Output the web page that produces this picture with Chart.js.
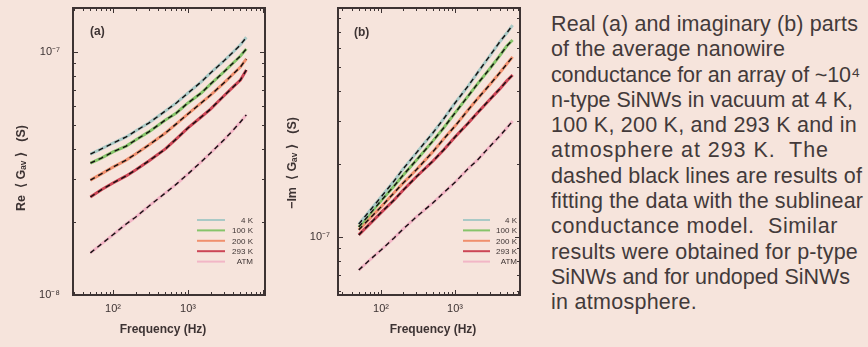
<!DOCTYPE html>
<html><head><meta charset="utf-8">
<script src="https://cdn.jsdelivr.net/npm/chart.js@4"></script>
<style>
html,body{margin:0;padding:0;background:#f6e4dc;width:868px;height:347px;overflow:hidden;position:relative;}
#wa{position:absolute;left:0;top:0;width:280px;height:347px;}
#wb{position:absolute;left:270px;top:0;width:270px;height:347px;}
#cap{position:absolute;left:551px;top:12px;font-family:"Liberation Sans",Arial,sans-serif;font-size:21.5px;line-height:25.3px;color:#433a3a;white-space:nowrap;}
</style></head><body>
<div id="wa"><canvas id="ca"></canvas></div>
<div id="wb"><canvas id="cb"></canvas></div>
<div id="cap"><span class="ln">Real (a) and imaginary (b) parts</span><br><span class="ln">of the average nanowire</span><br><span class="ln">conductance for an array of ~10⁴</span><br><span class="ln">n-type SiNWs in vacuum at 4 K,</span><br><span class="ln">100 K, 200 K, and 293 K and in</span><br><span class="ln">atmosphere at 293 K.&nbsp; The</span><br><span class="ln">dashed black lines are results of</span><br><span class="ln">fitting the data with the sublinear</span><br><span class="ln">conductance model.&nbsp; Similar</span><br><span class="ln">results were obtained for p-type</span><br><span class="ln">SiNWs and for undoped SiNWs</span><br><span class="ln">in atmosphere.</span></div>
<script>
// ---- data ----
const freq = [50,70,100,150,200,300,500,700,1000,1500,2000,3000,4000,5000,6000];
const seriesLabels = ['4 K','100 K','200 K','293 K','ATM'];
const seriesColors = ['#a9c9c6','#86c46a','#f0906e','#cc4656','#f2b6c6'];

const reA_4K   = [3.80e-8,3.99e-8,4.22e-8,4.47e-8,4.73e-8,5.10e-8,5.72e-8,6.17e-8,6.78e-8,7.53e-8,8.20e-8,9.18e-8,1.00e-7,1.07e-7,1.15e-7];
const reA_100K = [3.49e-8,3.66e-8,3.88e-8,4.10e-8,4.34e-8,4.69e-8,5.25e-8,5.61e-8,6.17e-8,6.78e-8,7.38e-8,8.27e-8,9.01e-8,9.63e-8,1.03e-7];
const reA_200K = [2.97e-8,3.15e-8,3.36e-8,3.59e-8,3.80e-8,4.14e-8,4.64e-8,5.06e-8,5.56e-8,6.17e-8,6.65e-8,7.45e-8,8.12e-8,8.67e-8,9.36e-8];
const reA_293K = [2.53e-8,2.71e-8,2.89e-8,3.09e-8,3.27e-8,3.56e-8,3.99e-8,4.39e-8,4.87e-8,5.40e-8,5.82e-8,6.59e-8,7.18e-8,7.67e-8,8.43e-8];
const reA_ATM  = [1.49e-8,1.62e-8,1.77e-8,1.96e-8,2.09e-8,2.32e-8,2.63e-8,2.86e-8,3.15e-8,3.53e-8,3.84e-8,4.34e-8,4.77e-8,5.15e-8,5.51e-8];

const imB_4K   = [1.13e-7,1.28e-7,1.46e-7,1.70e-7,1.91e-7,2.22e-7,2.68e-7,3.06e-7,3.56e-7,4.18e-7,4.73e-7,5.61e-7,6.34e-7,6.91e-7,7.45e-7];
const imB_100K = [1.10e-7,1.24e-7,1.41e-7,1.62e-7,1.80e-7,2.07e-7,2.48e-7,2.81e-7,3.24e-7,3.80e-7,4.26e-7,4.96e-7,5.56e-7,6.11e-7,6.47e-7];
const imB_200K = [1.07e-7,1.19e-7,1.33e-7,1.52e-7,1.67e-7,1.89e-7,2.24e-7,2.53e-7,2.86e-7,3.33e-7,3.70e-7,4.26e-7,4.73e-7,5.15e-7,5.51e-7];
const imB_293K = [1.02e-7,1.13e-7,1.26e-7,1.42e-7,1.56e-7,1.77e-7,2.05e-7,2.28e-7,2.58e-7,2.94e-7,3.24e-7,3.70e-7,4.06e-7,4.39e-7,4.64e-7];
const imB_ATM  = [7.31e-8,8.04e-8,8.84e-8,9.91e-8,1.08e-7,1.21e-7,1.38e-7,1.52e-7,1.68e-7,1.91e-7,2.07e-7,2.37e-7,2.60e-7,2.81e-7,3.00e-7];

const xTickValues = [100, 1000];
const xTickLabels = ['10²', '10³'];
const yTickValuesA = [1e-8, 1e-7];
const yTickLabelsA = ['10⁻⁸', '10⁻⁷'];
const yTickValuesB = [1e-7];
const yTickLabelsB = ['10⁻⁷'];

const seriesA = [reA_4K, reA_100K, reA_200K, reA_293K, reA_ATM];
const seriesB = [imB_4K, imB_100K, imB_200K, imB_293K, imB_ATM];

// ---- caption line fitting (layout only) ----
const capRight = [858, 785, 860, 853, 857, 829, 862, 863, 838, 858, 850, 697];
document.querySelectorAll('#cap .ln').forEach((sp, i) => {
  const w = sp.getBoundingClientRect().width;
  const target = capRight[i] - 551;
  const n = sp.textContent.length;
  sp.style.letterSpacing = ((target - w) / n).toFixed(3) + 'px';
});

// ---- drawing ----
const INK = '#3d3333';
const FONT = '"Liberation Sans", Arial, sans-serif';

function makeDatasets(series){
  const ds = [];
  series.forEach((arr, i) => {
    const pts = freq.map((f, k) => ({x: f, y: arr[k]}));
    ds.push({label: seriesLabels[i] + ' fit', data: pts, borderColor: '#141010', borderWidth: 1.4,
             borderDash: [5, 4], pointRadius: 0, fill: false, order: 0});
    ds.push({label: seriesLabels[i], data: pts, borderColor: seriesColors[i], borderWidth: 3,
             pointRadius: 0, fill: false, order: 1});
  });
  return ds;
}

const framePlugin = {
  id: 'frame',
  afterDraw(chart, args, o){
    const {ctx, chartArea: a, scales} = chart;
    ctx.save();
    ctx.strokeStyle = INK;
    ctx.lineWidth = 1;
    const tickSet = (scale, horiz) => {
      const lo = Math.floor(Math.log10(scale.min)), hi = Math.ceil(Math.log10(scale.max));
      for (let e = lo; e <= hi; e++) for (let m = 1; m <= 9; m++) {
        const v = m * Math.pow(10, e);
        if (v < scale.min * 1.0001 || v > scale.max / 1.0001) continue;
        const p = Math.round(scale.getPixelForValue(v)) + 0.5;
        const L = m === 1 ? 5 : 3;
        ctx.beginPath();
        if (horiz) { ctx.moveTo(p, a.bottom); ctx.lineTo(p, a.bottom - L); ctx.moveTo(p, a.top); ctx.lineTo(p, a.top + L); }
        else { ctx.moveTo(a.left, p); ctx.lineTo(a.left + L, p); ctx.moveTo(a.right, p); ctx.lineTo(a.right - L, p); }
        ctx.stroke();
      }
    };
    tickSet(scales.x, true);
    tickSet(scales.y, false);
    ctx.lineWidth = 2;
    ctx.strokeRect(a.left, a.top, a.right - a.left, a.bottom - a.top);
    ctx.fillStyle = INK;
    ctx.font = 'bold 12px ' + FONT;
    ctx.textBaseline = 'middle';
    ctx.textAlign = 'left';
    ctx.fillText(o.label, o.labelX, o.labelY);
    // axis titles
    ctx.textAlign = 'center';
    ctx.font = 'bold 12px ' + FONT;
    ctx.fillText(o.xTitle, o.xTitleX, o.xTitleY);
    ctx.save();
    ctx.translate(o.yTitleX, o.yTitleY);
    ctx.rotate(-Math.PI / 2);
    ctx.font = 'bold 12.5px ' + FONT;
    ctx.fillText(o.yTitle, 0, 0);
    ctx.restore();
    // legend
    ctx.font = '8px ' + FONT;
    ctx.textAlign = 'right';
    seriesLabels.forEach((lab, i) => {
      const y = o.legTop + i * o.legStep;
      ctx.strokeStyle = seriesColors[i];
      ctx.lineWidth = 2;
      ctx.beginPath();
      ctx.moveTo(o.lineX0, y);
      ctx.lineTo(o.lineX1, y);
      ctx.stroke();
      ctx.fillStyle = INK;
      ctx.fillText(lab, o.textX, y + 0.5);
    });
    ctx.restore();
  }
};

function zeroPad(s){ s.paddingTop = 0; s.paddingBottom = 0; s.paddingLeft = 0; s.paddingRight = 0; }

function makeChart(id, series, xr, yr, yTickVals, yTickLabs, yW, pad, yTickPad, frameOpts){
  return new Chart(document.getElementById(id), {
    type: 'line',
    data: {datasets: makeDatasets(series)},
    plugins: [framePlugin],
    options: {
      responsive: true, maintainAspectRatio: false, animation: false,
      layout: {padding: pad},
      plugins: {legend: {display: false}, tooltip: {enabled: false}, frame: frameOpts},
      scales: {
        x: {
          type: 'logarithmic', min: xr[0], max: xr[1],
          grid: {display: false, drawTicks: false}, border: {display: false},
          afterBuildTicks: s => { s.ticks = xTickValues.map(v => ({value: v})); },
          afterFit: s => { s.height = 52; zeroPad(s); },
          ticks: {autoSkip: false, maxRotation: 0, padding: 7, color: INK, font: {family: FONT, size: 11},
                  callback: (v, i) => xTickLabels[i]},
          title: {display: false}
        },
        y: {
          type: 'logarithmic', min: yr[0], max: yr[1],
          grid: {display: false, drawTicks: false}, border: {display: false},
          afterBuildTicks: s => { s.ticks = yTickVals.map(v => ({value: v})); },
          afterFit: s => { s.width = yW; zeroPad(s); },
          ticks: {autoSkip: false, padding: yTickPad, color: INK, font: {family: FONT, size: 11},
                  callback: (v, i) => yTickLabs[i]},
          title: {display: false}
        }
      }
    }
  });
}

makeChart('ca', seriesA, [29.3, 10640], [1e-8, 1.517e-7], yTickValuesA, yTickLabelsA,
  73, {left: 0, right: 15, top: 8, bottom: 0}, 13,
  {label: '(a)', labelX: 90, labelY: 32, xTitle: 'Frequency (Hz)', xTitleX: 163, xTitleY: 330,
   yTitle: 'Re  ⟨ Gₐᵥ ⟩   (S)', yTitleX: 22, yTitleY: 168,
   legTop: 220, legStep: 10.4, lineX0: 197, lineX1: 225, textX: 253});
makeChart('cb', seriesB, [26.2, 7550], [5.77e-8, 8.76e-7], yTickValuesB, yTickLabelsB,
  68, {left: 0, right: 20, top: 8, bottom: 0}, 8,
  {label: '(b)', labelX: 84, labelY: 33, xTitle: 'Frequency (Hz)', xTitleX: 163, xTitleY: 330,
   yTitle: '−Im  ⟨ Gₐᵥ ⟩   (S)', yTitleX: 23, yTitleY: 163,
   legTop: 220, legStep: 10.4, lineX0: 193, lineX1: 220, textX: 247});
</script>
</body></html>
